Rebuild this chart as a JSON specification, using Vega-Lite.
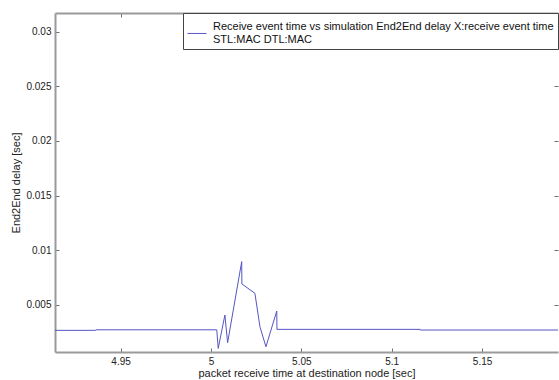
{
  "$schema": "https://vega.github.io/schema/vega-lite/v6.json",
  "width": 503,
  "height": 339,
  "autosize": {"type": "none"},
  "padding": {"left": 55, "top": 13, "right": 1, "bottom": 28},
  "background": "white",
  "config": {
    "view": {"stroke": null},
    "font": "Liberation Sans",
    "axis": {
      "domainColor": "#9a9a9a",
      "domainWidth": 2,
      "tickColor": "#707070",
      "tickSize": -4,
      "labelPadding": 8,
      "labelFont": "Liberation Sans",
      "labelFontSize": 10,
      "labelColor": "#222",
      "titleFont": "Liberation Sans",
      "titleFontSize": 11,
      "titleFontWeight": "normal",
      "titleColor": "#222",
      "grid": false
    }
  },
  "data": {
    "values": [
      {"t": 4.9137, "d": 0.00268, "s": "Receive event time vs simulation End2End delay X:receive event time"},
      {"t": 4.9362, "d": 0.00268, "s": "Receive event time vs simulation End2End delay X:receive event time"},
      {"t": 4.9363, "d": 0.00273, "s": "Receive event time vs simulation End2End delay X:receive event time"},
      {"t": 5.0032, "d": 0.00273, "s": "Receive event time vs simulation End2End delay X:receive event time"},
      {"t": 5.0040, "d": 0.00103, "s": "Receive event time vs simulation End2End delay X:receive event time"},
      {"t": 5.0077, "d": 0.00408, "s": "Receive event time vs simulation End2End delay X:receive event time"},
      {"t": 5.0092, "d": 0.00155, "s": "Receive event time vs simulation End2End delay X:receive event time"},
      {"t": 5.0170, "d": 0.00897, "s": "Receive event time vs simulation End2End delay X:receive event time"},
      {"t": 5.0171, "d": 0.00692, "s": "Receive event time vs simulation End2End delay X:receive event time"},
      {"t": 5.0243, "d": 0.00607, "s": "Receive event time vs simulation End2End delay X:receive event time"},
      {"t": 5.0271, "d": 0.00301, "s": "Receive event time vs simulation End2End delay X:receive event time"},
      {"t": 5.0304, "d": 0.00118, "s": "Receive event time vs simulation End2End delay X:receive event time"},
      {"t": 5.0364, "d": 0.00445, "s": "Receive event time vs simulation End2End delay X:receive event time"},
      {"t": 5.0365, "d": 0.00277, "s": "Receive event time vs simulation End2End delay X:receive event time"},
      {"t": 5.1157, "d": 0.00277, "s": "Receive event time vs simulation End2End delay X:receive event time"},
      {"t": 5.1158, "d": 0.00271, "s": "Receive event time vs simulation End2End delay X:receive event time"},
      {"t": 5.1920, "d": 0.00271, "s": "Receive event time vs simulation End2End delay X:receive event time"}
    ]
  },
  "layer": [
    {
      "mark": {"type": "line", "strokeWidth": 1, "clip": true},
      "encoding": {
        "x": {
          "field": "t", "type": "quantitative",
          "scale": {"domain": [4.9137, 5.192], "nice": false, "zero": false},
          "axis": {"title": "packet receive time at destination node [sec]", "values": [4.95, 5, 5.05, 5.1, 5.15], "format": "~g", "titlePadding": 1}
        },
        "y": {
          "field": "d", "type": "quantitative",
          "scale": {"domain": [0.0007, 0.0317], "nice": false, "zero": false},
          "axis": {"title": "End2End delay [sec]", "values": [0.005, 0.01, 0.015, 0.02, 0.025, 0.03], "format": "~g", "titlePadding": 4}
        },
        "color": {
          "field": "s", "type": "nominal",
          "scale": {"range": ["#5555c4"]},
          "legend": {
            "title": null,
            "orient": "none",
            "legendX": 128,
            "legendY": 0,
            "symbolType": "M-1,0.68L1,0.68",
            "symbolSize": 361,
            "symbolStrokeWidth": 1,
            "symbolFillColor": "transparent",
            "labelExpr": "[datum.label, '\u00a0STL:MAC DTL:MAC']",
            "labelFont": "Liberation Sans",
            "labelFontSize": 11,
            "labelColor": "#111",
            "labelLimit": 0,
            "strokeColor": "#444",
            "fillColor": "white",
            "padding": 4,
            "labelOffset": 6
          }
        }
      }
    },
    {
      "mark": {"type": "line", "opacity": 0},
      "encoding": {
        "x": {"field": "t", "type": "quantitative", "axis": {"orient": "top", "labels": false, "title": null, "values": [4.95, 5, 5.05, 5.1, 5.15]}},
        "y": {"field": "d", "type": "quantitative", "axis": {"orient": "right", "labels": false, "title": null, "domain": false, "values": [0.005, 0.01, 0.015, 0.02, 0.025, 0.03]}}
      }
    }
  ],
  "resolve": {"axis": {"x": "independent", "y": "independent"}}
}
